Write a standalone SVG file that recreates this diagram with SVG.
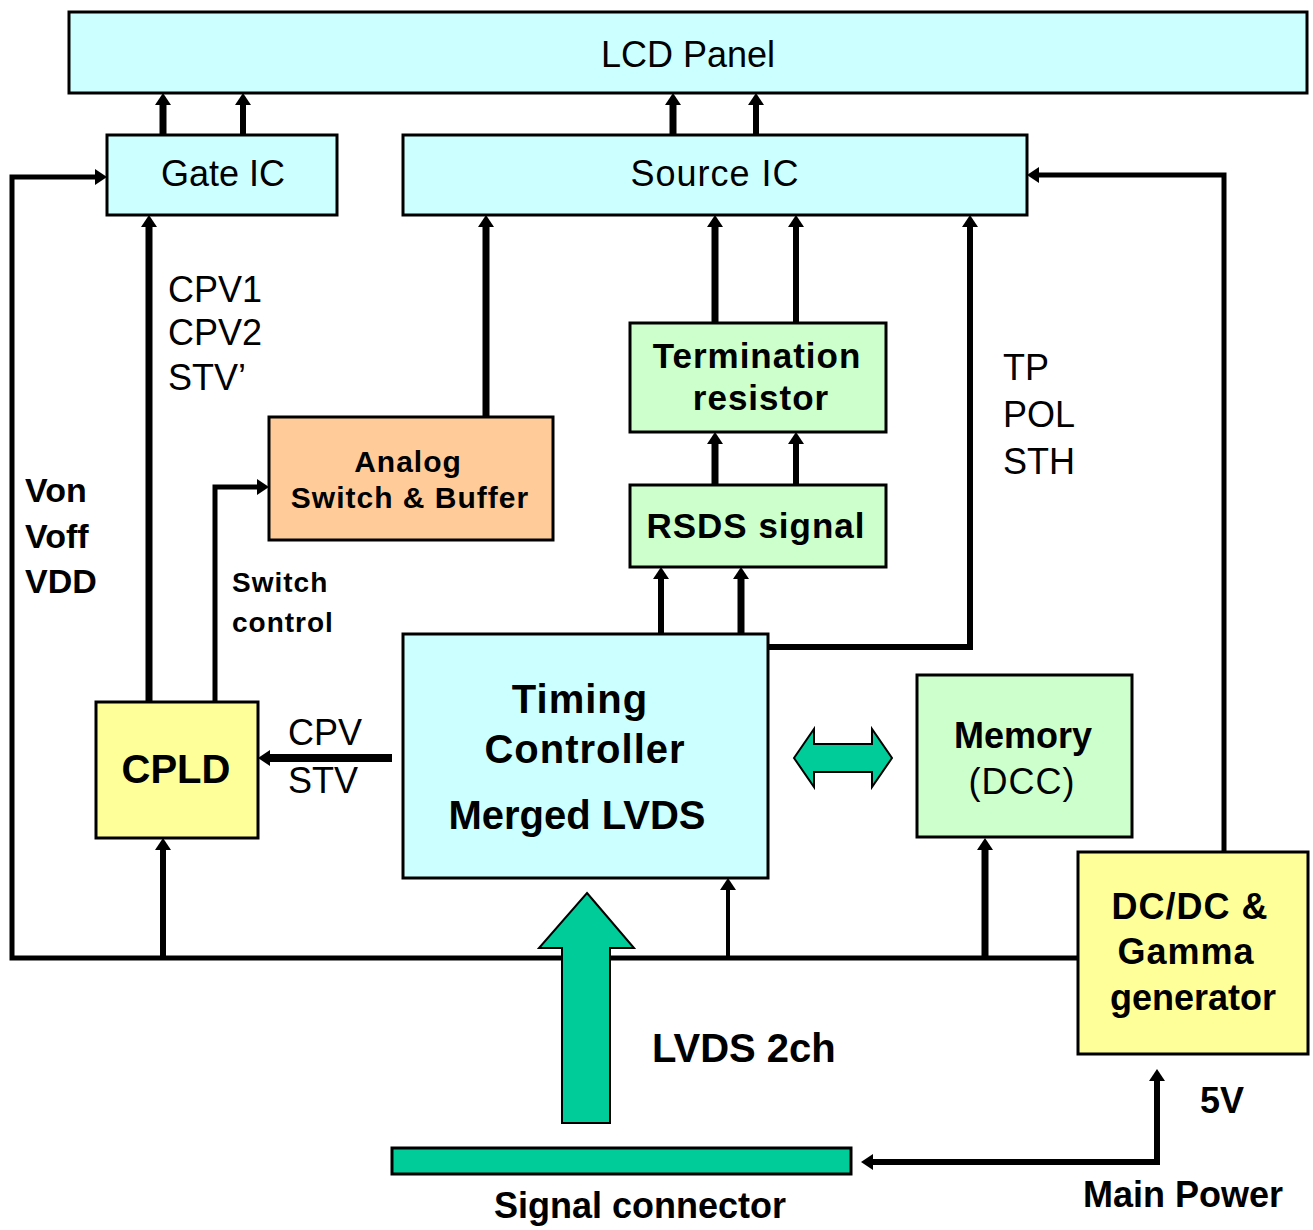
<svg xmlns="http://www.w3.org/2000/svg" width="1313" height="1230" viewBox="0 0 1313 1230">
<style>
.box{stroke:#000;stroke-width:3}
.cyan{fill:#CCFFFF}.green{fill:#CCFFCC}.orange{fill:#FFCC99}.yellow{fill:#FFFF99}
.w{fill:none;stroke:#000}
text{font-family:"Liberation Sans",Arial,sans-serif;fill:#000}
.r{font-size:36px}
.b{font-size:36px;font-weight:bold}
.m{text-anchor:middle}
</style>
<defs>
<marker id="ah" markerUnits="userSpaceOnUse" markerWidth="14" markerHeight="18" viewBox="0 -9 14 18" refX="0" refY="0" orient="auto-start-reverse">
<path d="M0,-8 L12,0 L0,8 z" fill="#000"/>
</marker>
</defs>
<rect width="1313" height="1230" fill="#fff"/>

<g id="connectors">
<path class="w" stroke-width="7" d="M163,135 V105" marker-end="url(#ah)"/>
<path class="w" stroke-width="6" d="M243,135 V105" marker-end="url(#ah)"/>
<path class="w" stroke-width="7" d="M673,135 V105" marker-end="url(#ah)"/>
<path class="w" stroke-width="6" d="M756,135 V105" marker-end="url(#ah)"/>
<path class="w" stroke-width="5" d="M1078,958 H12 V177 H95" marker-end="url(#ah)"/>
<path class="w" stroke-width="5" d="M1224,852 V175 H1039" marker-end="url(#ah)"/>
<path class="w" stroke-width="7" d="M149,702 V227" marker-end="url(#ah)"/>
<path class="w" stroke-width="5" d="M215,702 V487 H257" marker-end="url(#ah)"/>
<path class="w" stroke-width="7" d="M486,417 V227" marker-end="url(#ah)"/>
<path class="w" stroke-width="7" d="M715,323 V227" marker-end="url(#ah)"/>
<path class="w" stroke-width="6" d="M796,323 V227" marker-end="url(#ah)"/>
<path class="w" stroke-width="7" d="M715,485 V444" marker-end="url(#ah)"/>
<path class="w" stroke-width="6" d="M796,485 V444" marker-end="url(#ah)"/>
<path class="w" stroke-width="6" d="M661,634 V579" marker-end="url(#ah)"/>
<path class="w" stroke-width="7" d="M741,634 V579" marker-end="url(#ah)"/>
<path class="w" stroke-width="6" d="M768,647 H970 V227" marker-end="url(#ah)"/>
<path class="w" stroke-width="8" d="M392,758 H270" marker-end="url(#ah)"/>
<path class="w" stroke-width="6" d="M163,958 V850" marker-end="url(#ah)"/>
<path class="w" stroke-width="4" d="M728,958 V890" marker-end="url(#ah)"/>
<path class="w" stroke-width="7" d="M985,958 V850" marker-end="url(#ah)"/>
<path class="w" stroke-width="6" d="M873,1162 H1157 V1081" marker-start="url(#ah)" marker-end="url(#ah)"/>
<polygon points="794,758 814,729 814,744 872,744 872,729 892,758 872,787 872,772 814,772 814,787" fill="#00CC99" stroke="#000" stroke-width="2"/>
<polygon points="587,893 634,948 610,948 610,1123 562,1123 562,948 539,948" fill="#00CC99" stroke="#000" stroke-width="2"/>
</g>

<g id="lcd-panel">
<rect class="box cyan" x="69" y="12" width="1238" height="81"/>
<text class="r m" x="688" y="67">LCD Panel</text>
</g>
<g id="gate-ic">
<rect class="box cyan" x="107" y="135" width="230" height="80"/>
<text class="r m" x="223" y="186">Gate IC</text>
</g>
<g id="source-ic">
<rect class="box cyan" x="403" y="135" width="624" height="80"/>
<text class="r m" x="715" y="186" letter-spacing="1">Source IC</text>
</g>
<g id="analog-switch">
<rect class="box orange" x="269" y="417" width="284" height="123"/>
<text class="b m" x="408" y="472" style="font-size:30px" letter-spacing="1">Analog</text>
<text class="b m" x="410" y="508" style="font-size:30px" letter-spacing="1">Switch &amp; Buffer</text>
</g>
<g id="termination-resistor">
<rect class="box green" x="630" y="323" width="256" height="109"/>
<text class="b m" x="757" y="368" style="font-size:35px" letter-spacing="1">Termination</text>
<text class="b m" x="761" y="410" style="font-size:35px" letter-spacing="1">resistor</text>
</g>
<g id="rsds-signal">
<rect class="box green" x="630" y="485" width="256" height="82"/>
<text class="b m" x="756" y="538" style="font-size:35px" letter-spacing="1">RSDS signal</text>
</g>
<g id="timing-controller">
<rect class="box cyan" x="403" y="634" width="365" height="244"/>
<text class="b m" x="580" y="713" style="font-size:40px" letter-spacing="1">Timing</text>
<text class="b m" x="585" y="763" style="font-size:40px" letter-spacing="1">Controller</text>
<text class="b m" x="577" y="829" style="font-size:40px">Merged LVDS</text>
</g>
<g id="cpld">
<rect class="box yellow" x="96" y="702" width="162" height="136"/>
<text class="b m" x="176" y="783" style="font-size:40px">CPLD</text>
</g>
<g id="memory">
<rect class="box green" x="917" y="675" width="215" height="162"/>
<text class="b m" x="1023" y="748">Memory</text>
<text class="r m" x="1022" y="794" letter-spacing="1">(DCC)</text>
</g>
<g id="dcdc-gamma">
<rect class="box yellow" x="1078" y="852" width="230" height="202"/>
<text class="b m" x="1190" y="919" letter-spacing="1">DC/DC &amp;</text>
<text class="b m" x="1186" y="964" letter-spacing="1">Gamma</text>
<text class="b m" x="1193" y="1010">generator</text>
</g>
<g id="signal-connector">
<rect x="392" y="1148" width="459" height="26" fill="#00CC99" stroke="#000" stroke-width="3"/>
<text class="b m" x="640" y="1218">Signal connector</text>
</g>

<g id="labels">
<text class="r" x="168" y="302">CPV1</text>
<text class="r" x="168" y="345">CPV2</text>
<text class="r" x="168" y="390">STV’</text>
<text class="r" x="1003" y="380">TP</text>
<text class="r" x="1003" y="427">POL</text>
<text class="r" x="1003" y="474">STH</text>
<text class="b" x="25" y="502" style="font-size:34px">Von</text>
<text class="b" x="25" y="548" style="font-size:34px">Voff</text>
<text class="b" x="25" y="593" style="font-size:34px">VDD</text>
<text class="b" x="232" y="592" style="font-size:28px" letter-spacing="1">Switch</text>
<text class="b" x="232" y="632" style="font-size:28px" letter-spacing="1">control</text>
<text class="r" x="288" y="745">CPV</text>
<text class="r" x="288" y="793">STV</text>
<text class="b" x="652" y="1062" style="font-size:40px">LVDS 2ch</text>
<text class="b" x="1200" y="1113">5V</text>
<text class="b" x="1083" y="1207">Main Power</text>
</g>
</svg>
